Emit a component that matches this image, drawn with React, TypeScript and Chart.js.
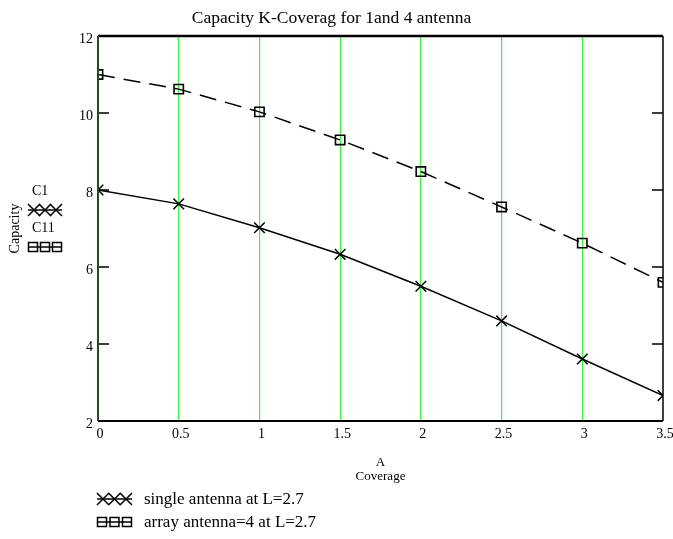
import React, { useEffect, useRef } from "react";
import { Chart, registerables } from "chart.js";

Chart.register(...registerables);

const coverage = [0, 0.5, 1, 1.5, 2, 2.5, 3, 3.5];
const singleAntenna = [8.0, 7.64, 7.02, 6.33, 5.5, 4.6, 3.61, 2.66];
const arrayAntenna = [11.0, 10.62, 10.03, 9.3, 8.48, 7.56, 6.62, 5.6];
const yTickValues = [2, 4, 6, 8, 10, 12];
const titleText = "Capacity K-Coverag for 1and 4 antenna";
const yTitle = "Capacity";
const xTitle = ["A", "Coverage"];
const seriesNames = ["C1", "C11"];
const legendLabels = ["single antenna at L=2.7", "array antenna=4 at L=2.7"];

const FONT = "'Liberation Serif', 'Times New Roman', serif";

function drawXMark(ctx: CanvasRenderingContext2D, x: number, y: number, r: number) {
  ctx.beginPath();
  ctx.moveTo(x - r, y - r);
  ctx.lineTo(x + r, y + r);
  ctx.moveTo(x - r, y + r);
  ctx.lineTo(x + r, y - r);
  ctx.stroke();
}

function drawSymbol(ctx: CanvasRenderingContext2D, kind: number, x0: number, x1: number, y: number) {
  ctx.save();
  ctx.strokeStyle = "#000";
  ctx.lineWidth = 1.5;
  ctx.beginPath();
  ctx.moveTo(x0, y);
  ctx.lineTo(x1, y);
  ctx.stroke();
  if (kind === 0) {
    const step = (x1 - x0 - 12) / 2;
    for (let i = 0; i < 3; i++) drawXMark(ctx, x0 + 6 + i * step, y, 6);
  } else {
    const step = (x1 - x0 - 10) / 2;
    for (let i = 0; i < 3; i++) ctx.strokeRect(x0 + 5 + i * step - 4.5, y - 4.5, 9, 9);
  }
  ctx.restore();
}

const decorPlugin = {
  id: "decor",
  afterDatasetsDraw(chart: any) {
    const { ctx, chartArea } = chart;
    const { left, right, top, bottom } = chartArea;
    const y = chart.scales.y;
    ctx.save();
    ctx.strokeStyle = "#000";
    ctx.lineWidth = 1.5;
    yTickValues.forEach((v) => {
      const py = y.getPixelForValue(v);
      ctx.beginPath();
      ctx.moveTo(left, py);
      ctx.lineTo(left + 11, py);
      ctx.moveTo(right - 11, py);
      ctx.lineTo(right, py);
      ctx.stroke();
    });
    ctx.lineWidth = 2.5;
    ctx.beginPath();
    ctx.moveTo(left, top);
    ctx.lineTo(right, top);
    ctx.stroke();
    ctx.lineWidth = 2;
    ctx.beginPath();
    ctx.moveTo(left, bottom);
    ctx.lineTo(right, bottom);
    ctx.stroke();
    ctx.lineWidth = 1.5;
    ctx.beginPath();
    ctx.moveTo(right, top);
    ctx.lineTo(right, bottom);
    ctx.stroke();
    ctx.strokeStyle = "#1f4f1f";
    ctx.lineWidth = 2;
    ctx.beginPath();
    ctx.moveTo(left, top);
    ctx.lineTo(left, bottom);
    ctx.stroke();
    ctx.restore();
  },
  afterDraw(chart: any) {
    const { ctx } = chart;
    ctx.save();
    ctx.fillStyle = "#000";
    ctx.textBaseline = "middle";
    ctx.textAlign = "left";
    ctx.font = `14px ${FONT}`;
    ctx.fillText(seriesNames[0], 32, 191);
    drawSymbol(ctx, 0, 28, 62, 210);
    ctx.fillText(seriesNames[1], 32, 228);
    drawSymbol(ctx, 1, 28, 62, 247);
    ctx.font = `17px ${FONT}`;
    ctx.fillText(legendLabels[0], 144, 500);
    drawSymbol(ctx, 0, 97, 132, 499);
    ctx.fillText(legendLabels[1], 144, 523);
    drawSymbol(ctx, 1, 97, 132, 522);
    ctx.restore();
  },
};

export default function App() {
  const ref = useRef<HTMLCanvasElement | null>(null);
  useEffect(() => {
    if (!ref.current) return;
    const chart = new Chart(ref.current, {
      type: "line",
      data: {
        datasets: [
          {
            label: seriesNames[0],
            data: coverage.map((x, i) => ({ x, y: singleAntenna[i] })),
            borderColor: "#000",
            borderWidth: 1.5,
            pointStyle: "crossRot",
            pointRadius: 7.5,
            pointBorderWidth: 1.5,
            pointBorderColor: "#000",
            pointBackgroundColor: "rgba(0,0,0,0)",
            tension: 0,
          },
          {
            label: seriesNames[1],
            data: coverage.map((x, i) => ({ x, y: arrayAntenna[i] })),
            borderColor: "#000",
            borderWidth: 1.5,
            borderDash: [17, 9],
            pointStyle: "rect",
            pointRadius: 6.6,
            pointBorderWidth: 1.6,
            pointBorderColor: "#000",
            pointBackgroundColor: "rgba(0,0,0,0)",
            tension: 0,
          },
        ],
      },
      options: {
        animation: false,
        responsive: false,
        devicePixelRatio: 1,
        layout: { padding: { top: 0, right: 10, left: 0, bottom: 0 } },
        plugins: {
          legend: { display: false },
          tooltip: { enabled: false },
          title: {
            display: true,
            text: titleText,
            color: "#000",
            font: { family: FONT, size: 17.5, weight: "normal", lineHeight: 1.2 },
            padding: { top: 8, bottom: 7 },
          },
        },
        scales: {
          x: {
            type: "linear",
            min: 0,
            max: 3.5,
            afterFit: (s: any) => {
              s.height = 118;
              s.paddingLeft = 0;
              s.paddingRight = 0;
            },
            ticks: {
              stepSize: 0.5,
              color: "#000",
              font: { family: FONT, size: 14 },
              padding: 5,
              labelOffset: 2,
              maxRotation: 0,
              callback: (v: any) => String(v),
            },
            grid: {
              drawTicks: false,
              lineWidth: 1.2,
              color: (c: any) =>
                c.tick && c.tick.value > 0 && c.tick.value < 3.5 ? "#3ff03f" : "rgba(0,0,0,0)",
            },
            border: { display: false },
            title: {
              display: true,
              text: xTitle,
              color: "#000",
              font: { family: FONT, size: 13, lineHeight: 1.08 },
              padding: { top: 0, bottom: 55 },
            },
          },
          y: {
            type: "linear",
            min: 2,
            max: 12,
            afterFit: (s: any) => {
              s.width = 98;
            },
            ticks: {
              stepSize: 2,
              color: "#000",
              font: { family: FONT, size: 14 },
              padding: 5,
              labelOffset: 3,
            },
            grid: { display: false, drawTicks: false },
            border: { display: false },
            title: {
              display: true,
              text: yTitle,
              color: "#000",
              font: { family: FONT, size: 14, lineHeight: 1.2 },
              padding: { top: 7, bottom: 0 },
            },
          },
        },
      },
      plugins: [decorPlugin],
    } as any);
    return () => chart.destroy();
  }, []);
  return (
    <div style={{ position: "absolute", left: 0, top: 0, width: 673, height: 539, background: "#fff" }}>
      <canvas ref={ref} width={673} height={539} style={{ display: "block" }} />
    </div>
  );
}
